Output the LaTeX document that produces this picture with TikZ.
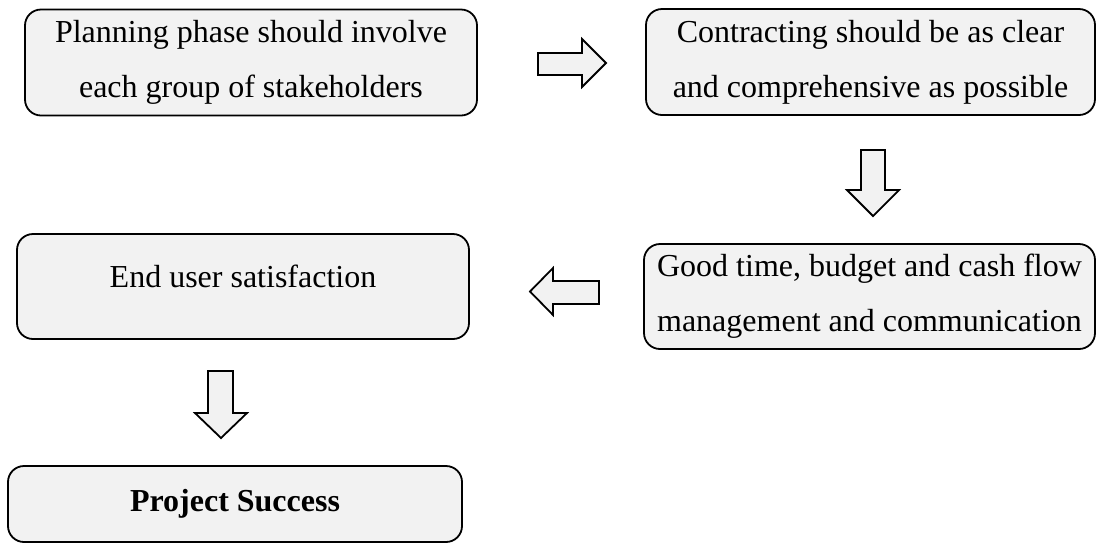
\documentclass[tikz,border=0pt]{standalone}
\usepackage{fontspec}
\setmainfont{Liberation Serif}
\usepackage{xcolor}
\usetikzlibrary{calc}
\definecolor{boxfill}{HTML}{F2F2F2}
\definecolor{edge}{HTML}{000000}
\tikzset{
  box/.style={draw=edge, fill=boxfill, line width=0.9pt, rounded corners=8pt,
    inner sep=0pt, minimum width=226pt, minimum height=53pt, align=center,
    font=\fontsize{16}{27.5}\selectfont},
  blockarr/.style={draw=edge, fill=boxfill, line width=0.9pt, line join=miter},
}

\begin{document}
\begin{tikzpicture}[x=0.5pt, y=-0.5pt]
  \useasboundingbox (0,0) rectangle (1096,543);

  % boxes
  \node[box] (plan) at (251,62.5) {Planning phase should involve\\each group of stakeholders};
  \node[box, minimum width=224.5pt] (contract) at (870.5,62) {Contracting should be as clear\\and comprehensive as possible};
  \node[box, minimum width=225.5pt, minimum height=52.5pt] (manage) at (869.5,296.5) {Good time, budget and cash flow\\management and communication};
  \node[box, minimum height=52.5pt] (user) at (243,286.5) {End user satisfaction\rule[-10pt]{0pt}{0pt}};
  \node[box, minimum width=227pt, minimum height=38pt, font=\fontsize{16}{18}\selectfont\bfseries] (success) at (235,504) {Project Success};

  % block arrows
  \draw[blockarr] (538,53) -- (582,53) -- (582,39) -- (606,63) -- (582,87) -- (582,75) -- (538,75) -- cycle;
  \draw[blockarr] (861,150) -- (885,150) -- (885,190) -- (899,190) -- (873,216) -- (847,190) -- (861,190) -- cycle;
  \draw[blockarr] (599,281) -- (553,281) -- (553,268) -- (530,291.5) -- (553,315) -- (553,304) -- (599,304) -- cycle;
  \draw[blockarr] (208,371) -- (233,371) -- (233,413) -- (247,413) -- (221,438) -- (195,413) -- (208,413) -- cycle;
\end{tikzpicture}
\end{document}
